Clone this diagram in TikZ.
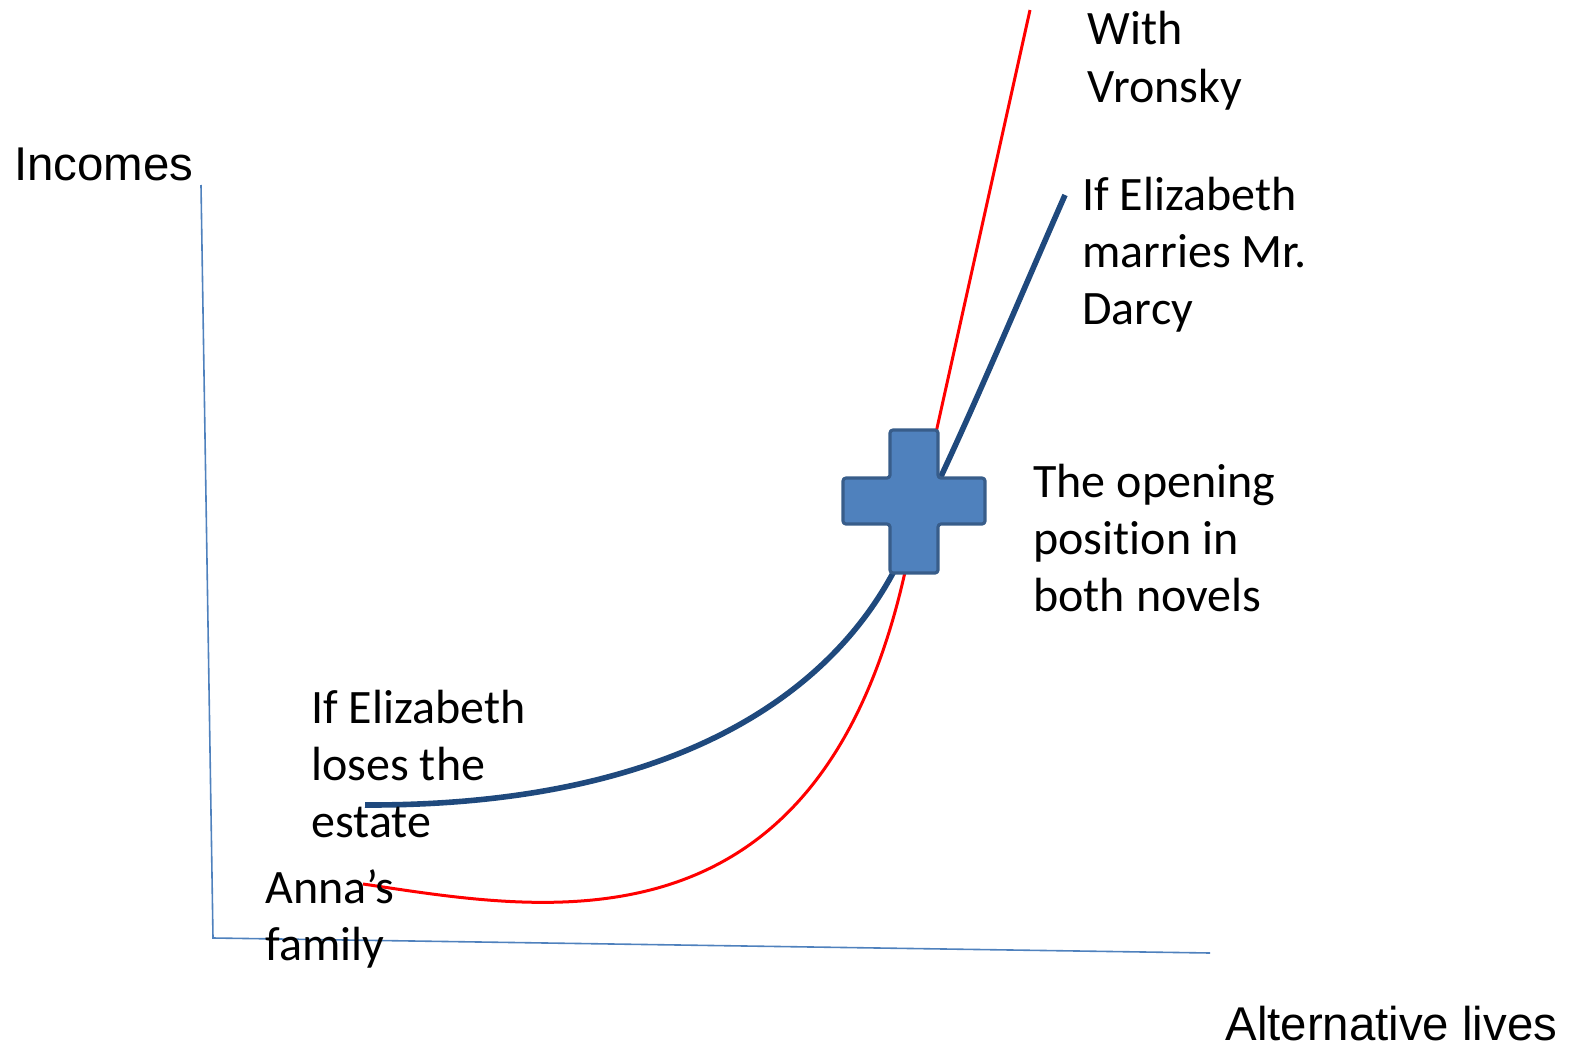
\documentclass[tikz,border=0pt]{standalone}
\usepackage{fontspec}
\setmainfont{Carlito}[Ligatures=NoCommon]
\newfontfamily\arialfont{Liberation Sans}
\definecolor{axisblue}{HTML}{4F81BD}
\definecolor{darkblue}{HTML}{1F497D}
\definecolor{crossedge}{HTML}{385D8A}
\begin{document}
\begin{tikzpicture}[x=0.5pt,y=-0.5pt,
  lbl/.style={anchor=base west,inner sep=0pt,align=left,font=\fontsize{24}{28.5}\selectfont},
  axlbl/.style={anchor=base west,inner sep=0pt,font=\arialfont\fontsize{23.7}{28}\selectfont},
  axisline/.style={draw=axisblue,line width=0.8pt},
  redcurve/.style={draw=red,line width=1.5pt},
  bluecurve/.style={draw=darkblue,line width=2.8pt},
  crossshape/.style={fill=axisblue,draw=crossedge,line width=1.6pt,rounded corners=1.5pt,line join=round}]
\useasboundingbox (0,0) rectangle (1575,1049);
% axes
\coordinate (ytop) at (201,185);
\coordinate (origin) at (213,938);
\coordinate (xend) at (1210,953);
\draw[axisline] (ytop) -- (origin) -- (xend);
% curves
\coordinate (r0) at (363,884);
\coordinate (r1) at (905,572);
\coordinate (r2) at (1030,10);
\draw[redcurve] (r0) .. controls (540,910) and (817,965) .. (r1) -- (r2);
\coordinate (b0) at (365,805);
\coordinate (b1) at (893,573);
\coordinate (b2) at (1065,195);
\draw[bluecurve] (b0) .. controls (680,806) and (830,690) .. (b1) .. controls (947,473) and (1010,320) .. (b2);
% cross
\draw[crossshape] (890,430) -- (938,430) -- (938,478) -- (985,478) -- (985,524) -- (938,524) -- (938,573) -- (890,573) -- (890,524) -- (843,524) -- (843,478) -- (890,478) -- cycle;
% labels
\node[axlbl] (incomes) at (14,180) {Incomes};
\node[axlbl] (altlives) at (1225,1040) {Alternative lives};
\node[lbl] (vronsky) at (1087,102) {With\\Vronsky};
\node[lbl] (darcy) at (1082,324) {If Elizabeth\\marries Mr.\\Darcy};
\node[lbl] (opening) at (1033,611) {The opening\\position in\\both novels};
\node[lbl] (loses) at (311,837) {If Elizabeth\\loses the\\estate};
\node[lbl] (anna) at (265,960) {Anna’s\\family};
\end{tikzpicture}
\end{document}
